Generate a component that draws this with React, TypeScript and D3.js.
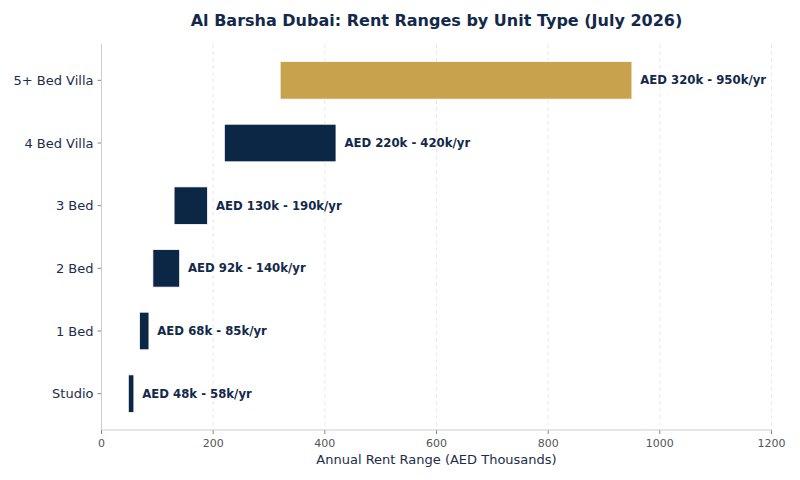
import React from "react";
import * as d3 from "d3";

const categories = ["Studio", "1 Bed", "2 Bed", "3 Bed", "4 Bed Villa", "5+ Bed Villa"];
const lows = [48, 68, 92, 130, 220, 320];
const highs = [58, 85, 140, 190, 420, 950];
const labels = [
  "AED 48k - 58k/yr",
  "AED 68k - 85k/yr",
  "AED 92k - 140k/yr",
  "AED 130k - 190k/yr",
  "AED 220k - 420k/yr",
  "AED 320k - 950k/yr",
];
const xTicks = [0, 200, 400, 600, 800, 1000, 1200];

const NAVY = "#0c2645";
const GOLD = "#c9a24d";
const FONT = "DejaVu Sans, sans-serif";

export default function App() {
  const W = 800, H = 480;
  const left = 101.5, right = 771.5, top = 44, bottom = 430;
  const x = d3.scaleLinear().domain([0, 1200]).range([left, right]);
  const y = d3.scaleLinear().domain([-0.58, 5.58]).range([bottom, top]);
  const bh = Math.abs(y(0.3) - y(-0.3));
  return (
    <svg width={W} height={H} style={{ position: "absolute", left: 0, top: 0, background: "#fff" }} fontFamily={FONT}>
      <text x={436.5} y={25.5} textAnchor="middle" fontSize={16} fontWeight="bold" fill="#13294b">
        Al Barsha Dubai: Rent Ranges by Unit Type (July 2026)
      </text>
      {xTicks.map((t) => (
        <g key={t}>
          <line x1={x(t)} x2={x(t)} y1={top} y2={bottom} stroke="#e4e4e4" strokeDasharray="4,3" strokeWidth={0.8} />
          <line x1={x(t)} x2={x(t)} y1={bottom} y2={bottom + 4} stroke="#666" strokeWidth={0.8} />
          <text x={x(t)} y={bottom + 17} textAnchor="middle" fontSize={11} fill="#555">{t}</text>
        </g>
      ))}
      {categories.map((c, i) => (
        <g key={c}>
          <rect
            x={x(lows[i])}
            y={y(i) - bh / 2}
            width={x(highs[i]) - x(lows[i])}
            height={bh}
            fill={i === 5 ? GOLD : NAVY}
            stroke="#fff"
            strokeWidth={0.8}
          />
          <line x1={left - 4} x2={left} y1={y(i)} y2={y(i)} stroke="#666" strokeWidth={0.8} />
          <text x={left - 8} y={y(i)} dy="0.35em" textAnchor="end" fontSize={13} fill="#1b2d4a">{c}</text>
          <text x={x(highs[i] + 15)} y={y(i)} dy="0.35em" fontSize={11.7} fontWeight="bold" fill="#13294b">{labels[i]}</text>
        </g>
      ))}
      <line x1={left} x2={left} y1={top} y2={bottom} stroke="#cccccc" strokeWidth={1} />
      <line x1={left} x2={right} y1={bottom} y2={bottom} stroke="#cccccc" strokeWidth={1} />
      <text x={436.5} y={464} textAnchor="middle" fontSize={13} fill="#1b2d4a">Annual Rent Range (AED Thousands)</text>
    </svg>
  );
}
